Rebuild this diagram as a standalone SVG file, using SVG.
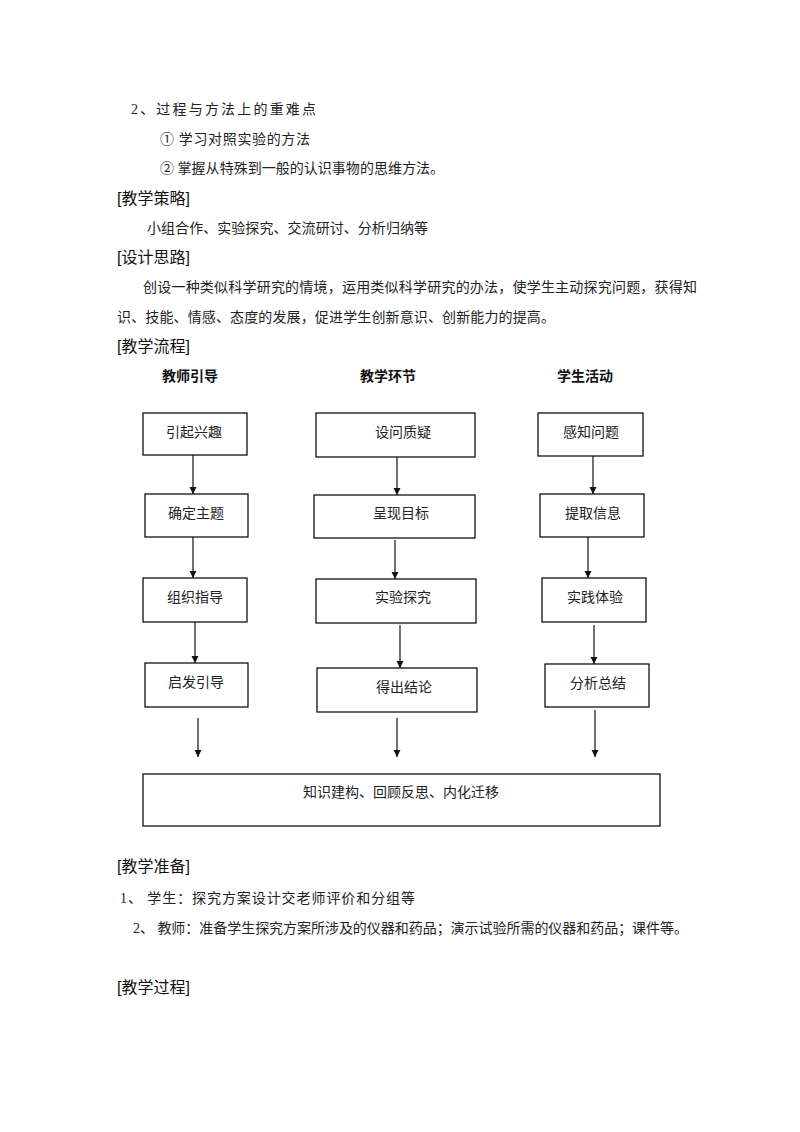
<svg xmlns="http://www.w3.org/2000/svg" width="800" height="1132" viewBox="0 0 800 1132">
<defs>
<style>
.body{font-family:"Liberation Serif","Noto Sans CJK SC",serif;font-size:14px;fill:#222}
.head{font-family:"Liberation Sans","Noto Sans CJK SC",sans-serif;font-size:16px;fill:#111}
.col{font-family:"Liberation Sans","Noto Sans CJK SC",sans-serif;font-size:14px;font-weight:bold;fill:#111}
.box{fill:#fff;stroke:#111;stroke-width:1.3}
.lbl{font-family:"Liberation Serif","Noto Sans CJK SC",serif;font-size:14px;fill:#222;text-anchor:middle}
.conn{stroke:#111;stroke-width:1.2;fill:none;marker-end:url(#ah)}
</style>
<marker id="ah" viewBox="0 0 10 10" refX="10" refY="5" markerWidth="7" markerHeight="8" markerUnits="userSpaceOnUse" orient="auto">
<path d="M0,0 L10,5 L0,10 z" fill="#111"/>
</marker>
</defs>
<rect width="800" height="1132" fill="#fff"/>

<text class="body" x="131" y="114" font-size="15" textLength="185" lengthAdjust="spacing">2、过程与方法上的重难点</text>
<text class="body" x="160" y="144" textLength="150" lengthAdjust="spacing">① 学习对照实验的方法</text>
<text class="body" x="160" y="173" textLength="284" lengthAdjust="spacing">② 掌握从特殊到一般的认识事物的思维方法。</text>
<text class="head" x="117" y="204">[教学策略]</text>
<text class="body" x="147" y="233" textLength="281" lengthAdjust="spacing">小组合作、实验探究、交流研讨、分析归纳等</text>
<text class="head" x="117" y="263">[设计思路]</text>
<text class="body" x="143" y="292" textLength="554" lengthAdjust="spacing">创设一种类似科学研究的情境，运用类似科学研究的办法，使学生主动探究问题，获得知</text>
<text class="body" x="117" y="322" textLength="438" lengthAdjust="spacing">识、技能、情感、态度的发展，促进学生创新意识、创新能力的提高。</text>
<text class="head" x="117" y="352">[教学流程]</text>

<text class="col" x="162" y="381">教师引导</text>
<text class="col" x="360" y="381">教学环节</text>
<text class="col" x="557" y="381">学生活动</text>

<g id="connectors">
<line class="conn" x1="193" y1="455" x2="193" y2="494"/>
<line class="conn" x1="193" y1="537" x2="193" y2="578"/>
<line class="conn" x1="195" y1="622" x2="195" y2="663"/>
<line class="conn" x1="198" y1="718" x2="198" y2="757"/>
<line class="conn" x1="397" y1="457" x2="397" y2="495"/>
<line class="conn" x1="395" y1="540" x2="395" y2="579"/>
<line class="conn" x1="400" y1="625" x2="400" y2="668"/>
<line class="conn" x1="397" y1="718" x2="397" y2="757"/>
<line class="conn" x1="593" y1="456" x2="593" y2="494"/>
<line class="conn" x1="588" y1="537" x2="588" y2="578"/>
<line class="conn" x1="594" y1="625" x2="594" y2="664"/>
<line class="conn" x1="595" y1="710" x2="595" y2="757"/>
</g>

<g id="n1"><rect class="box" x="143" y="413" width="104" height="42"/><text class="lbl" x="194" y="437">引起兴趣</text></g>
<g id="n2"><rect class="box" x="145" y="494" width="103" height="43"/><text class="lbl" x="196" y="518">确定主题</text></g>
<g id="n3"><rect class="box" x="143" y="578" width="104" height="44"/><text class="lbl" x="195" y="602">组织指导</text></g>
<g id="n4"><rect class="box" x="145" y="663" width="103" height="44"/><text class="lbl" x="196" y="687">启发引导</text></g>

<g id="m1"><rect class="box" x="316" y="413" width="159" height="44"/><text class="lbl" x="403" y="437">设问质疑</text></g>
<g id="m2"><rect class="box" x="314" y="495" width="161" height="43"/><text class="lbl" x="401" y="518">呈现目标</text></g>
<g id="m3"><rect class="box" x="316" y="579" width="160" height="44"/><text class="lbl" x="403" y="602">实验探究</text></g>
<g id="m4"><rect class="box" x="317" y="668" width="160" height="44"/><text class="lbl" x="404" y="692">得出结论</text></g>

<g id="s1"><rect class="box" x="538" y="413" width="105" height="43"/><text class="lbl" x="591" y="437">感知问题</text></g>
<g id="s2"><rect class="box" x="540" y="494" width="104" height="43"/><text class="lbl" x="593" y="518">提取信息</text></g>
<g id="s3"><rect class="box" x="542" y="578" width="104" height="44"/><text class="lbl" x="595" y="602">实践体验</text></g>
<g id="s4"><rect class="box" x="545" y="664" width="104" height="43"/><text class="lbl" x="598" y="688">分析总结</text></g>

<g id="final"><rect class="box" x="143" y="774" width="517" height="52"/><text class="lbl" x="401" y="797">知识建构、回顾反思、内化迁移</text></g>

<text class="head" x="117" y="872">[教学准备]</text>
<text class="body" x="120" y="903" textLength="295" lengthAdjust="spacing">1、 学生：探究方案设计交老师评价和分组等</text>
<text class="body" x="133" y="933" textLength="555" lengthAdjust="spacing">2、 教师：准备学生探究方案所涉及的仪器和药品；演示试验所需的仪器和药品；课件等。</text>
<text class="head" x="117" y="993">[教学过程]</text>
</svg>
